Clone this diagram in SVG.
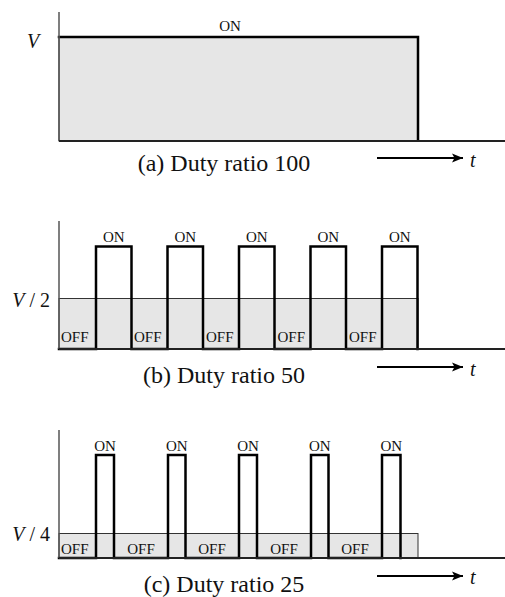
<svg xmlns="http://www.w3.org/2000/svg" width="505" height="597" viewBox="0 0 505 597">
<style>
.fill{fill:#e6e6e6;stroke:#333;stroke-width:1}
.wave{fill:none;stroke:#000;stroke-width:2.5;stroke-linejoin:miter;stroke-linecap:square}
.yaxis{stroke:#555;stroke-width:1.5}
.xaxis{stroke:#222;stroke-width:2}
.lbl{font-family:"Liberation Serif","Times New Roman",serif;font-size:15px;fill:#111}
.cap{font-family:"Liberation Serif","Times New Roman",serif;font-size:24px;fill:#111;text-anchor:middle}
.sym{font-family:"Liberation Serif","Times New Roman",serif;font-size:20px;fill:#111}
.it{font-style:italic}
.mid{text-anchor:middle}
.end{text-anchor:end}
.arr{stroke:#000;stroke-width:2;fill:none}
</style>
<defs>
<marker id="ah" markerWidth="12" markerHeight="10" refX="11" refY="5" orient="auto" markerUnits="userSpaceOnUse">
<path d="M0,0.5 L11,5 L0,9.5 L2.5,5 Z" fill="#000"/>
</marker>
</defs>

<g id="panel-a">
<rect class="fill" x="59" y="37" width="359" height="104"/>
<path class="wave" d="M59,37 H418 V140"/>
<line class="yaxis" x1="59" y1="12" x2="59" y2="141"/>
<line class="xaxis" x1="59" y1="141" x2="505" y2="141"/>
<text class="lbl mid" x="230" y="31">ON</text>
<text class="sym it mid" x="33" y="48">V</text>
<text class="cap" x="224" y="171">(a) Duty ratio 100</text>
<text class="sym it" x="470" y="167">t</text>
</g>

<g id="panel-b">
<rect class="fill" x="59" y="298.5" width="359" height="50.5"/>
<path class="wave" d="M59,349 H96 V246.5 H131.5 V349 H167.5 V246.5 H203 V349 H239 V246.5 H274.5 V349 H310.5 V246.5 H346 V349 H382 V246.5 H417.5 V349"/>
<line class="yaxis" x1="59" y1="221" x2="59" y2="349"/>
<line class="xaxis" x1="59" y1="349" x2="505" y2="349"/>
<text class="lbl mid" x="113.8" y="241.5">ON</text>
<text class="lbl mid" x="185.3" y="241.5">ON</text>
<text class="lbl mid" x="256.8" y="241.5">ON</text>
<text class="lbl mid" x="328.3" y="241.5">ON</text>
<text class="lbl mid" x="399.8" y="241.5">ON</text>
<text class="lbl" x="61" y="341.5">OFF</text>
<text class="lbl" x="134" y="341.5">OFF</text>
<text class="lbl" x="206" y="341.5">OFF</text>
<text class="lbl" x="277.5" y="341.5">OFF</text>
<text class="lbl" x="349" y="341.5">OFF</text>
<text class="sym end" x="50" y="307"><tspan class="it">V</tspan> / 2</text>
<text class="cap" x="224" y="383">(b) Duty ratio 50</text>
<text class="sym it" x="470" y="376">t</text>
</g>

<g id="panel-c">
<rect class="fill" x="59" y="533.5" width="359" height="24.5"/>
<path class="wave" d="M59,558 H96 V455 H114 V558 H168 V455 H185.5 V558 H239 V455 H257 V558 H311 V455 H328.5 V558 H382 V455 H400.5 V558"/>
<line class="yaxis" x1="59" y1="430" x2="59" y2="558"/>
<line class="xaxis" x1="59" y1="558" x2="505" y2="558"/>
<text class="lbl mid" x="105" y="450.5">ON</text>
<text class="lbl mid" x="176.8" y="450.5">ON</text>
<text class="lbl mid" x="248" y="450.5">ON</text>
<text class="lbl mid" x="319.8" y="450.5">ON</text>
<text class="lbl mid" x="391.3" y="450.5">ON</text>
<text class="lbl" x="61" y="554">OFF</text>
<text class="lbl mid" x="141" y="554">OFF</text>
<text class="lbl mid" x="212" y="554">OFF</text>
<text class="lbl mid" x="284" y="554">OFF</text>
<text class="lbl mid" x="355" y="554">OFF</text>
<text class="sym end" x="50" y="541"><tspan class="it">V</tspan> / 4</text>
<text class="cap" x="224" y="592">(c) Duty ratio 25</text>
<text class="sym it" x="470" y="584">t</text>
</g>

<g id="connectors">
<line class="arr" x1="377" y1="158" x2="463" y2="158" marker-end="url(#ah)"/>
<line class="arr" x1="377" y1="367" x2="463" y2="367" marker-end="url(#ah)"/>
<line class="arr" x1="377" y1="576" x2="463" y2="576" marker-end="url(#ah)"/>
</g>
</svg>
